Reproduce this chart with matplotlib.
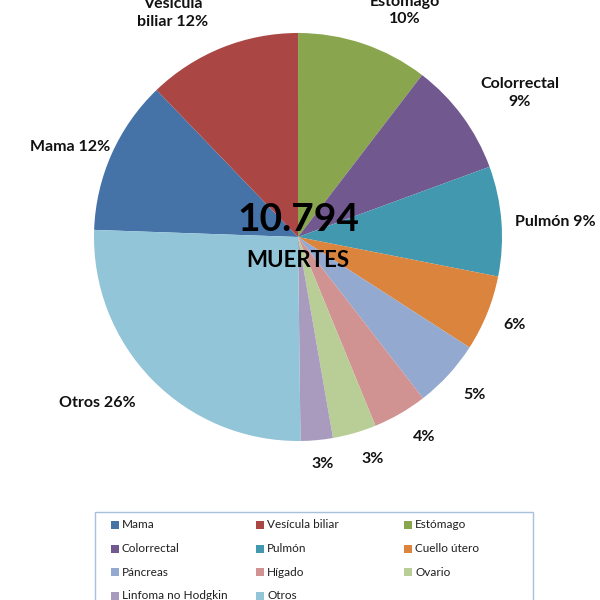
import matplotlib.pyplot as plt
from matplotlib.patches import Rectangle

# Distribución de muertes por cáncer (porcentajes)
categorias = ['Mama', 'Vesícula biliar', 'Estómago', 'Colorrectal', 'Pulmón',
              'Cuello útero', 'Páncreas', 'Hígado', 'Ovario',
              'Linfoma no Hodgkin', 'Otros']
valores = [12.25, 12.2, 10.4, 9.0, 8.7, 6.0, 5.4, 4.3, 3.45, 2.55, 25.75]
colores = ['#4572A7', '#AA4643', '#89A54E', '#71588F', '#4198AF', '#DB843D',
           '#93A9CF', '#D19392', '#B9CD96', '#A99BBD', '#92C5D8']
# texto de cada etiqueta (el nombre aparece sólo en algunas)
nombres_etiqueta = ['Mama', 'Vesícula\nbiliar', 'Estómago\n', 'Colorrectal\n',
                    'Pulmón', '', '', '', '', '', 'Otros']
total_muertes = '10.794'

plt.rcParams['font.family'] = ['Lato', 'DejaVu Sans']

fig = plt.figure(figsize=(6, 6), dpi=100)
# eje del pastel: centro (298, 237) px, radio 204 px
ax = fig.add_axes([94 / 600, (600 - 237 - 204) / 600, 408 / 600, 408 / 600])
wedges, _ = ax.pie(valores, colors=colores, startangle=178, counterclock=False,
                   radius=1, wedgeprops=dict(linewidth=0))
ax.set_xlim(-1, 1)
ax.set_ylim(-1, 1)
ax.set_aspect('equal')
ax.axis('off')

# posiciones de etiquetas (coordenadas del eje, radio = 1)
pos_etiquetas = [(-1.118, 0.441), (-0.613, 1.10), (0.525, 1.11), (1.088, 0.706),
                 (1.26, 0.074), (1.06, -0.43), (0.863, -0.775), (0.618, -0.98),
                 (0.368, -1.088), (0.123, -1.113), (-0.985, -0.814)]
for nombre, v, (x, y) in zip(nombres_etiqueta, valores, pos_etiquetas):
    pct = f'{round(v):d}%'
    if nombre == '':
        texto = pct
    elif nombre.endswith('\n'):
        texto = nombre + pct
    else:
        texto = nombre + ' ' + pct
    ax.text(x, y, texto, ha='center', va='center', fontsize=11.5,
            fontweight='bold', color='#111111', linespacing=1.35,
            clip_on=False)

ax.text(0, 0.088, total_muertes, ha='center', va='center', fontsize=28,
        fontweight='bold', color='black')
ax.text(0, -0.113, 'MUERTES', ha='center', va='center', fontsize=16,
        fontweight='bold', color='black')

# leyenda (3 columnas, llenado por filas, cortada por abajo)
fig.patches.append(Rectangle((95 / 600, 1 - 640 / 600), 438 / 600, 128 / 600,
                             transform=fig.transFigure, facecolor='white',
                             edgecolor='#A7C0DE', linewidth=1))
col_x = [111, 256, 404]
fila_y = [525, 548.5, 572, 595.5]
for i, (cat, c) in enumerate(zip(categorias, colores)):
    fx = col_x[i % 3]
    fy = fila_y[i // 3]
    fig.patches.append(Rectangle((fx / 600, 1 - (fy + 4) / 600), 8 / 600, 8 / 600,
                                 transform=fig.transFigure, facecolor=c,
                                 edgecolor='none'))
    fig.text((fx + 11) / 600, 1 - fy / 600, cat, ha='left', va='center',
             fontsize=8.5, color='#1F1F1F')

fig.savefig('out.png', dpi=100)
